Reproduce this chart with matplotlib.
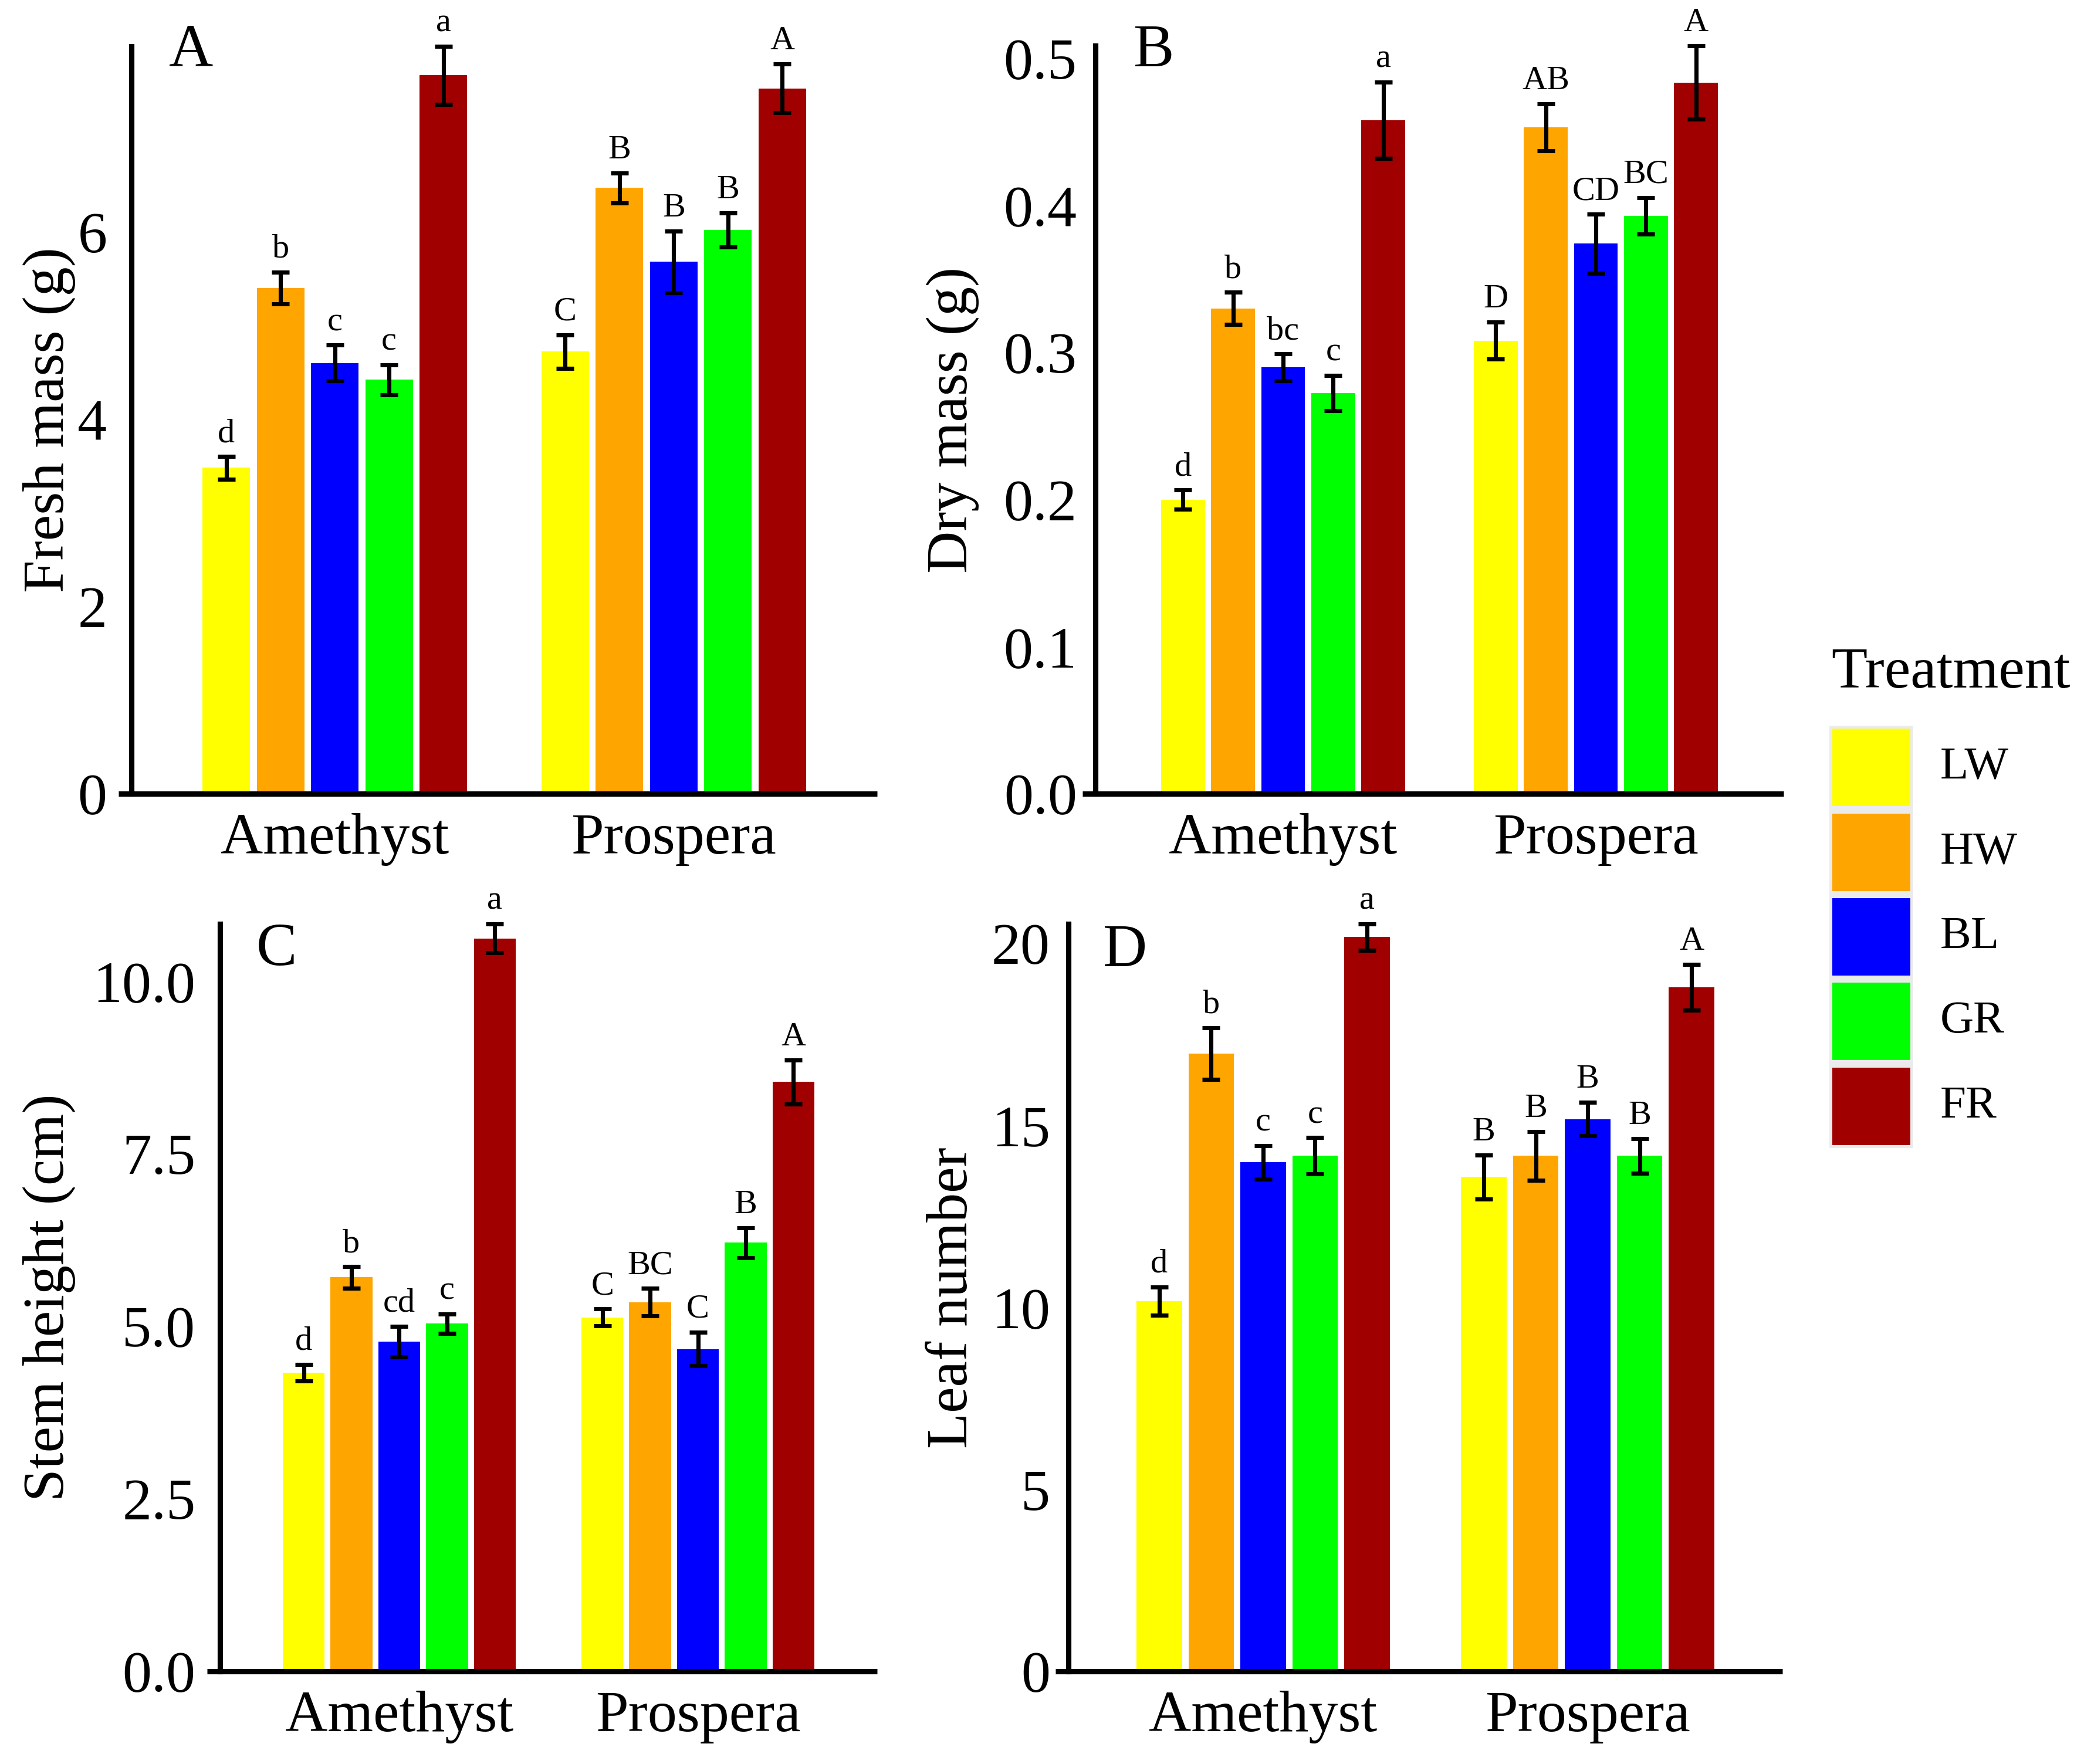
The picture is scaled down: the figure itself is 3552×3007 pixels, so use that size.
# Four-panel bar chart: growth traits of two cultivars under five light treatments
import matplotlib

matplotlib.use("Agg")
import matplotlib.pyplot as plt
import numpy as np
from matplotlib.patches import Rectangle

FIG_W, FIG_H = 3552, 3007
DPI = 300

cultivars = ["Amethyst", "Prospera"]
treatments = ["LW", "HW", "BL", "GR", "FR"]
treatment_colors = ["#FFFF00", "#FFA500", "#0000FF", "#00FF00", "#A00000"]

# rows = cultivars, columns = treatments
fresh_mass_mean = [[3.48, 5.40, 4.60, 4.42, 7.67], [4.72, 6.47, 5.68, 6.02, 7.53]]
fresh_mass_se = [[0.12, 0.17, 0.19, 0.16, 0.31], [0.18, 0.16, 0.33, 0.18, 0.26]]
fresh_mass_letters = [["d", "b", "c", "c", "a"], ["C", "B", "B", "B", "A"]]

dry_mass_mean = [[0.200, 0.330, 0.290, 0.2725, 0.458], [0.308, 0.453, 0.374, 0.393, 0.4836]]
dry_mass_se = [[0.0065, 0.011, 0.009, 0.012, 0.026], [0.0126, 0.016, 0.020, 0.0124, 0.025]]
dry_mass_letters = [["d", "b", "bc", "c", "a"], ["D", "AB", "CD", "BC", "A"]]

stem_height_mean = [[4.33, 5.71, 4.78, 5.04, 10.62], [5.13, 5.35, 4.67, 6.21, 8.54]]
stem_height_se = [[0.12, 0.155, 0.22, 0.14, 0.21], [0.12, 0.20, 0.245, 0.22, 0.32]]
stem_height_letters = [["d", "b", "cd", "c", "a"], ["C", "BC", "C", "B", "A"]]

leaf_number_mean = [[10.17, 16.97, 13.98, 14.16, 20.17], [13.58, 14.16, 15.17, 14.16, 18.79]]
leaf_number_se = [[0.39, 0.71, 0.46, 0.50, 0.36], [0.60, 0.67, 0.46, 0.48, 0.63]]
leaf_number_letters = [["d", "b", "c", "c", "a"], ["B", "B", "B", "B", "A"]]

fresh_ticks = [0, 2, 4, 6]
fresh_ticklabels = ["0", "2", "4", "6"]
dry_ticks = [0.0, 0.1, 0.2, 0.3, 0.4, 0.5]
dry_ticklabels = ["0.0", "0.1", "0.2", "0.3", "0.4", "0.5"]
stem_ticks = [0.0, 2.5, 5.0, 7.5, 10.0]
stem_ticklabels = ["0.0", "2.5", "5.0", "7.5", "10.0"]
leaf_ticks = [0, 5, 10, 15, 20]
leaf_ticklabels = ["0", "5", "10", "15", "20"]

DODGE = 0.16
BAR_WIDTH = 0.14
AXIS_LW = 2.2
TICK_FS = 24
TITLE_FS = 24


def px_box(left, right, bottom, top):
    """Pixel box (from top-left origin) -> figure fraction rect."""
    return [left / FIG_W, 1 - bottom / FIG_H, (right - left) / FIG_W, (bottom - top) / FIG_H]


def draw_panel(fig, box, means, errors, letters, ticks, ticklabels, ylabel, panel_tag,
               ylabel_x, tag_xy, ytick_pad):
    ax = fig.add_axes(px_box(*box))
    means = np.asarray(means, dtype=float)
    errors = np.asarray(errors, dtype=float)
    n_treat = len(treatments)

    for g, cultivar in enumerate(cultivars):
        for t in range(n_treat):
            x = g + 1 + (t - (n_treat - 1) / 2) * DODGE
            ax.bar(x, means[g, t], width=BAR_WIDTH, color=treatment_colors[t], linewidth=0, zorder=2)
            ax.errorbar(x, means[g, t], yerr=errors[g, t], fmt="none", ecolor="black",
                        elinewidth=1.7, capsize=3.5, capthick=1.7, zorder=3, clip_on=False)
            ax.annotate(letters[g][t], xy=(x, means[g, t] + errors[g, t]), xytext=(0, 6),
                        textcoords="offset points", ha="center", va="baseline",
                        fontsize=14, annotation_clip=False)

    ax.set_xlim(0.4, len(cultivars) + 0.6)
    ax.set_ylim(0, float((means + errors).max()))
    ax.set_xticks(np.arange(1, len(cultivars) + 1))
    ax.set_xticklabels(cultivars, fontsize=TICK_FS)
    ax.set_yticks(ticks)
    ax.set_yticklabels(ticklabels, fontsize=TICK_FS)
    ax.tick_params(axis="x", length=0, pad=8)
    ax.tick_params(axis="y", length=0, pad=ytick_pad)

    for side in ("top", "right", "bottom"):
        ax.spines[side].set_visible(False)
    ax.spines["left"].set_linewidth(AXIS_LW)

    width_px = box[1] - box[0]
    ax.axhline(0, xmin=-22 / width_px, xmax=1, color="black", linewidth=AXIS_LW,
               clip_on=False, zorder=5, solid_capstyle="butt")

    ax.set_ylabel(ylabel, fontsize=TITLE_FS, va="center")
    ax.yaxis.set_label_coords((ylabel_x - box[0]) / width_px, 0.5)

    fig.text(tag_xy[0] / FIG_W, 1 - tag_xy[1] / FIG_H, panel_tag, fontsize=25,
             ha="left", va="center")
    return ax


def draw_legend(fig):
    """ggplot-like legend: grey key column with filled squares."""
    fig.text(3121 / FIG_W, 1 - 1148 / FIG_H, "Treatment", fontsize=24, ha="left", va="center")
    top, step, key_h = 1242, 144.5, 132
    left, right = 3123, 3256
    n = len(treatments)
    fig.patches.append(Rectangle((3118 / FIG_W, 1 - (top + step * (n - 1) + key_h + 5) / FIG_H),
                                 (right - left + 10) / FIG_W, (step * (n - 1) + key_h + 10) / FIG_H,
                                 transform=fig.transFigure, facecolor="#EBEBEB", linewidth=0))
    for i, (name, color) in enumerate(zip(treatments, treatment_colors)):
        y_top = top + i * step
        fig.patches.append(Rectangle((left / FIG_W, 1 - (y_top + key_h) / FIG_H),
                                     (right - left) / FIG_W, key_h / FIG_H,
                                     transform=fig.transFigure, facecolor=color, linewidth=0))
        fig.text(3307 / FIG_W, 1 - (y_top + key_h / 2) / FIG_H, name, fontsize=19,
                 ha="left", va="center")


def main():
    plt.rcParams["font.family"] = ["Liberation Serif", "DejaVu Serif"]
    fig = plt.figure(figsize=(FIG_W / DPI, FIG_H / DPI), dpi=DPI)
    fig.patch.set_facecolor("white")

    draw_panel(fig, (224, 1495, 1353, 79), fresh_mass_mean, fresh_mass_se, fresh_mass_letters,
               fresh_ticks, fresh_ticklabels, "Fresh mass (g)", "A", 84, (288, 88), 10)
    draw_panel(fig, (1867, 3040, 1353, 78), dry_mass_mean, dry_mass_se, dry_mass_letters,
               dry_ticks, dry_ticklabels, "Dry mass (g)", "B", 1624, (1932, 88), 7.5)
    draw_panel(fig, (375, 1495, 2849, 1575), stem_height_mean, stem_height_se, stem_height_letters,
               stem_ticks, stem_ticklabels, "Stem height (cm)", "C", 84, (437, 1620), 10)
    draw_panel(fig, (1821, 3038, 2849, 1575), leaf_number_mean, leaf_number_se, leaf_number_letters,
               leaf_ticks, leaf_ticklabels, "Leaf number", "D", 1624, (1880, 1622), 7.5)

    draw_legend(fig)

    fig.savefig("out.png", dpi=DPI, facecolor=fig.get_facecolor())
    plt.close(fig)


if __name__ == "__main__":
    main()
